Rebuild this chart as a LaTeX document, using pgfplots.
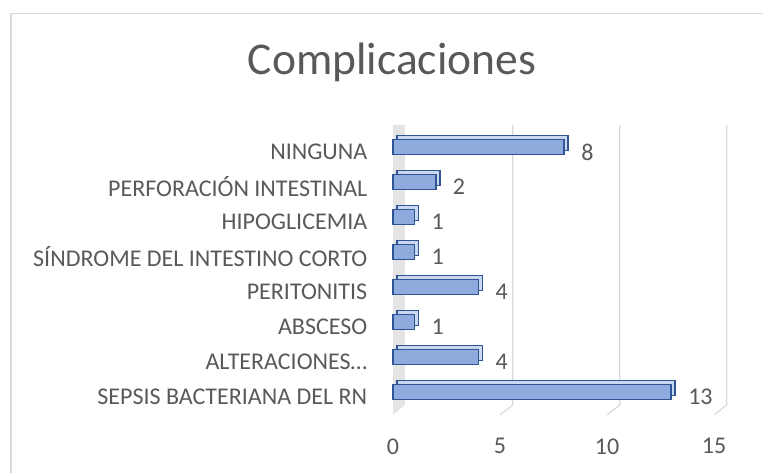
\documentclass[border=0pt]{standalone}
\usepackage{pgfplots}
\pgfplotsset{compat=1.18}
\usepackage{fontspec}
\setmainfont{Carlito}

\definecolor{txt}{HTML}{595959}
\definecolor{gridc}{HTML}{D9D9D9}
\definecolor{wallc}{HTML}{E4E4E4}
\definecolor{barfill}{HTML}{8FAADC}
\definecolor{barline}{HTML}{2F5597}
\definecolor{barside}{HTML}{C9D7EF}

\begin{document}
\begin{tikzpicture}
\path[use as bounding box] (0,0) rectangle (763bp,473bp);
% chart frame
\draw[gridc, line width=1.5bp] (11bp,-2bp) -- (11bp,459.5bp) -- (765bp,459.5bp);
\node[txt, font=\fontsize{45.5bp}{54bp}\selectfont] at (392bp,411bp) {Complicaciones};

\begin{axis}[
    at={(393bp,58bp)}, anchor=south west,
    scale only axis,
    width=321bp, height=290bp,
    xmin=0, xmax=15,
    ymin=-0.66, ymax=7.63,
    axis line style={draw=none},
    tick style={draw=none},
    clip=false,
    /pgf/number format/assume math mode=true,
    xtick={0,5,10,15},
    ytick={0,...,7},
    yticklabels={SEPSIS BACTERIANA DEL RN, ALTERACIONES…, ABSCESO, PERITONITIS,
        SÍNDROME DEL INTESTINO CORTO, HIPOGLICEMIA, PERFORACIÓN INTESTINAL, NINGUNA},
    yticklabel style={font=\fontsize{24bp}{28bp}\selectfont, text=txt, anchor=east, xshift=-18bp, yshift=-5bp},
    xticklabel style={font=\fontsize{24bp}{28bp}\selectfont, text=txt, yshift=-20bp},
    xbar, bar width=15bp,
]
% back wall and grid lines
\fill[wallc] (axis cs:0,-0.66) -- (axis cs:0.55,-0.37) -- (axis cs:0.55,7.63) -- (axis cs:0,7.63) -- cycle;
\draw[gridc, line width=1.2bp] (axis cs:5,-0.66) -- (axis cs:5.6,-0.37) -- (axis cs:5.6,7.63);
\draw[gridc, line width=1.2bp] (axis cs:10,-0.66) -- (axis cs:10.6,-0.37) -- (axis cs:10.6,7.63);
\draw[gridc, line width=1.2bp] (axis cs:15,-0.66) -- (axis cs:15.6,-0.37) -- (axis cs:15.6,7.63);
% depth of the boxes
\addplot[bar shift=0pt, xshift=4bp, yshift=4bp, fill=barside, draw=barline, line width=1.6bp]
coordinates {(13,0) (4,1) (1,2) (4,3) (1,4) (1,5) (2,6) (8,7)};
% front faces
\addplot[bar shift=0pt, fill=barfill, draw=barline, line width=1.6bp,
    nodes near coords,
    every node near coord/.append style={font=\fontsize{24bp}{28bp}\selectfont, text=txt, anchor=west, xshift=13bp, yshift=-5bp}]
coordinates {(13,0) (4,1) (1,2) (4,3) (1,4) (1,5) (2,6) (8,7)};
\end{axis}
\end{tikzpicture}
\end{document}
